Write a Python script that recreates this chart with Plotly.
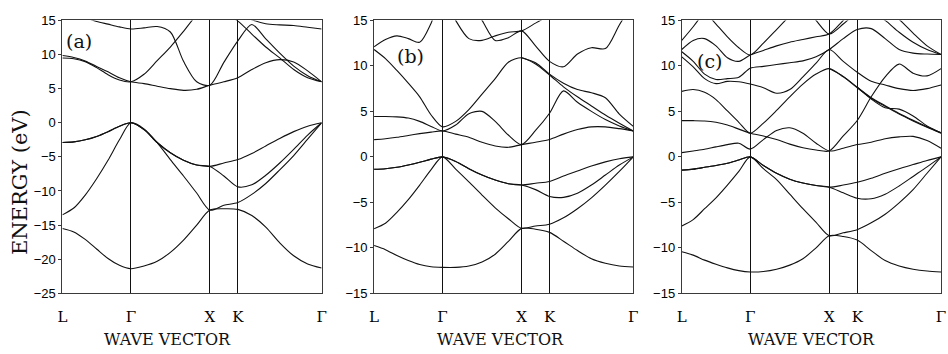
import plotly.graph_objects as go

# k-path positions (L, Gamma, X, K, Gamma) in units of 2pi/a
k_grid = [0, 0.1443, 0.2887, 0.433, 0.5773, 0.7217, 0.866, 1.0327, 1.1993, 1.366, 1.5327,
          1.6993, 1.866, 2.043, 2.22, 2.3967, 2.5733, 2.75, 2.9267, 3.1033, 3.28]
sym_k = [0, 0.866, 1.866, 2.22, 3.28]
sym_labels = ["L", "Γ", "X", "K", "Γ"]
N = None

# ---- panel (a) ----
a_v1 = [-15.5, -16.0, -17.1, -18.5, -19.9, -20.9, -21.4, -21.0, -20.3, -19.0, -17.2, -15.0, -12.8, -12.6, -12.7, -13.6, -15.3, -17.6, -19.5, -20.7, -21.3]
a_v2 = [-13.5, -12.5, -10.6, -8.2, -5.5, -2.5, 0, -0.9, -2.9, -5.4, -7.8, -10.3, -12.8, -12.1, -11.7, -10.5, -8.9, -6.9, -4.8, -2.4, 0]
a_v3 = [-2.9, -2.8, -2.5, -2.0, -1.3, -0.5, 0, -1.0, -2.9, -4.4, -5.5, -6.2, -6.4, -7.8, -9.4, -9.1, -7.7, -5.9, -3.9, -1.8, 0]
a_v4 = [-2.9, -2.8, -2.5, -2.0, -1.3, -0.5, 0, -1.0, -2.9, -4.4, -5.5, -6.2, -6.4, -5.9, -5.4, -4.5, -3.4, -2.3, -1.3, -0.5, 0]
a_c1 = [9.85, 9.57, 9.06, 8.26, 7.46, 6.58, 6.0, 5.74, 5.36, 5.0, 4.75, 4.9, 5.5, 6.0, 6.6, 7.8, 8.8, 9.25, 8.9, 7.6, 6.0]
a_c2 = [9.48, 9.39, 8.96, 8.08, 7.04, 6.26, 6.0, 7.1, 9.1, 11.1, 13.4, 15.8, 17.5, 16.2, 14.9, 13.0, 11.1, 9.5, 7.8, 6.6, 6.0]
a_c3 = [16.8, 16.0, 15.4, 14.85, 14.45, 14.05, 13.75, 13.9, 14.1, 13.3, 9.0, 6.0, 5.5, 8.85, 12.0, 14.4, 12.3, 10.2, 8.3, 6.9, 6.0]
a_c4 = [N, N, N, N, N, N, N, N, N, N, N, N, N, N, 16.0, 15.1, 14.5, 14.35, 14.25, 14.0, 13.75]

# ---- panel (b) ----
b_v1 = [-9.75, -10.2, -10.85, -11.4, -11.84, -12.08, -12.15, -12.15, -12.0, -11.55, -10.7, -9.3, -7.86, -7.95, -8.3, -9.27, -10.3, -11.2, -11.7, -12.0, -12.1]
b_v2 = [-7.9, -7.3, -6.1, -4.7, -3.1, -1.4, 0, -1.35, -2.75, -4.2, -5.6, -6.8, -7.86, -7.6, -7.4, -6.7, -5.7, -4.5, -3.1, -1.6, 0]
b_v3 = [-1.36, -1.3, -1.15, -0.9, -0.6, -0.25, 0, -0.5, -1.3, -2.0, -2.55, -2.95, -3.1, -3.6, -4.35, -4.45, -4.0, -3.1, -2.0, -0.9, 0]
b_v4 = [-1.36, -1.3, -1.15, -0.9, -0.6, -0.25, 0, -0.5, -1.3, -2.0, -2.55, -2.95, -3.1, -2.9, -2.7, -2.1, -1.55, -1.0, -0.55, -0.2, 0]
b_c1 = [1.9, 2.0, 2.15, 2.35, 2.55, 2.72, 2.85, 2.5, 2.15, 1.6, 1.2, 1.05, 1.35, 1.6, 1.9, 2.5, 3.0, 3.3, 3.3, 3.1, 2.85]
b_c2 = [4.44, 4.44, 4.4, 4.27, 3.9, 3.35, 2.85, 3.5, 4.75, 5.0, 3.9, 2.4, 1.35, 2.9, 4.8, 7.25, 6.0, 5.0, 4.1, 3.4, 2.85]
b_c3 = [11.8, 10.8, 9.5, 8.1, 6.6, 4.6, 3.3, 3.9, 5.2, 6.9, 8.6, 10.4, 10.9, 10.2, 9.0, 7.7, 6.6, 5.6, 4.6, 3.7, 2.85]
b_c4 = [12.1, 12.9, 13.3, 13.0, 12.6, 14.7, 18.0, 15.0, 13.0, 12.8, 13.3, 13.7, 13.85, 14.7, 15.6, 17.0, N, N, N, N, N]
b_c5 = [N, N, N, N, N, N, N, N, N, N, N, N, 10.9, 10.35, 9.1, 8.1, 7.4, 7.05, 6.5, 4.7, 3.35]
b_c6 = [N, N, N, N, N, N, N, N, 17.0, 15.0, 12.8, 13.1, 13.85, 12.2, 10.5, 9.9, 11.3, 12.0, 11.9, 14.5, 17.0]

# ---- panel (c) ----
c_v1 = [-10.43, -10.8, -11.35, -11.8, -12.2, -12.5, -12.65, -12.6, -12.35, -11.9, -11.2, -10.0, -8.67, -8.75, -9.15, -10.3, -11.4, -12.0, -12.35, -12.55, -12.65]
c_v2 = [-7.6, -6.9, -5.7, -4.5, -3.1, -1.6, 0, -1.3, -2.5, -4.1, -5.7, -7.2, -8.67, -8.35, -8.0, -7.25, -6.3, -5.05, -3.6, -1.8, 0]
c_v3 = [-1.46, -1.35, -1.15, -0.95, -0.7, -0.35, 0, -0.95, -1.8, -2.45, -2.87, -3.15, -3.33, -3.95, -4.55, -4.6, -4.1, -3.2, -2.15, -1.1, 0]
c_v4 = [-1.46, -1.35, -1.15, -0.95, -0.7, -0.35, 0, -0.95, -1.8, -2.45, -2.87, -3.15, -3.33, -3.1, -2.8, -2.35, -1.8, -1.3, -0.85, -0.4, 0]
c_c1 = [0.47, 0.65, 0.83, 1.1, 1.35, 1.5, 0.85, 1.9, 2.9, 3.2, 2.6, 1.5, 0.65, 0.95, 1.35, 1.6, 2.0, 2.2, 2.25, 1.8, 0.95]
c_c2 = [3.98, 3.98, 3.95, 3.8, 3.5, 3.05, 2.6, 2.3, 1.9, 1.4, 1.0, 0.75, 0.65, 2.3, 4.0, 6.6, 8.8, 10.2, 9.2, 8.9, 9.7]
c_c3 = [7.2, 7.4, 7.1, 6.3, 5.05, 3.8, 2.6, 3.7, 5.1, 6.6, 8.0, 9.1, 9.7, 8.8, 7.6, 6.45, 5.55, 4.7, 3.95, 3.25, 2.6]
c_c4 = [N, N, N, N, N, N, N, N, N, N, N, N, 9.7, 8.85, 7.65, 6.35, 5.4, 5.25, 4.5, 3.4, 2.65]
c_c5 = [N, N, N, N, N, N, N, N, N, N, N, N, N, N, 7.65, 6.5, 5.62, 4.78, 4.03, 3.32, 2.66]
c_u1 = [11.8, 12.8, 13.0, 12.2, 10.9, 10.5, 11.2, 11.7, 12.2, 12.6, 12.9, 13.2, 13.5, 15.0, 16.5, N, N, N, N, N, N]
c_u2 = [N, N, 16.0, 14.6, 13.2, 12.0, 11.2, 12.5, 14.0, 15.5, 17.0, N, N, N, N, N, N, N, N, N, N]
c_u3 = [11.55, 10.5, 9.1, 8.5, 8.6, 8.75, 9.75, 9.95, 10.15, 10.35, 10.55, 11.0, 11.8, 13.0, 14.0, 14.1, 13.0, 11.8, 11.4, 11.3, 11.25]
c_u4 = [11.0, 9.9, 8.6, 8.05, 8.3, 8.25, 8.0, 7.6, 7.0, 7.4, 8.8, 10.3, 11.8, 10.5, 9.3, 8.3, 7.9, 7.5, 7.3, 7.5, 7.9]
c_u5 = [12.8, 14.3, 16.0, N, N, N, N, N, N, N, N, N, N, N, N, N, N, N, N, N, N]
c_u6 = [N, N, N, N, N, N, N, N, N, N, N, N, N, N, 17.5, 16.0, 15.0, 13.7, 12.6, 11.8, 11.25]
c_u7 = [N, N, N, N, N, N, N, N, N, N, N, N, N, N, N, 17.5, 16.2, 15.1, 13.6, 12.2, 11.25]
c_u8 = [N, N, N, N, N, N, N, N, N, N, 16.6, 15.0, 13.5, 14.6, 16.0, N, N, N, N, N, N]

panels = [
    ("x", "y", [a_v1, a_v2, a_v3, a_v4, a_c1, a_c2, a_c3, a_c4]),
    ("x2", "y2", [b_v1, b_v2, b_v3, b_v4, b_c1, b_c2, b_c3, b_c4, b_c5, b_c6]),
    ("x3", "y3", [c_v1, c_v2, c_v3, c_v4, c_c1, c_c2, c_c3, c_c4, c_c5,
                  c_u1, c_u2, c_u3, c_u4, c_u5, c_u6, c_u7, c_u8]),
]

fig = go.Figure()
for xa, ya, bands in panels:
    for e in bands:
        fig.add_trace(go.Scatter(x=k_grid, y=e, xaxis=xa, yaxis=ya, mode="lines",
                                 line=dict(color="#111111", width=1.1, shape="spline", smoothing=0.8),
                                 hoverinfo="skip", showlegend=False))

W, H = 948, 354
x_domains = [(58, 320), (373, 635), (684, 946)]
y_top, y_bot = 14, 299
y_ranges = [(-25, 15), (-15, 15), (-15, 15)]
frame = "#3a3a3a"

layout = dict(width=W, height=H, margin=dict(l=0, r=0, t=0, b=0),
              paper_bgcolor="white", plot_bgcolor="white", showlegend=False)
for i, ((x0, x1), (ylo, yhi)) in enumerate(zip(x_domains, y_ranges)):
    sx = "" if i == 0 else str(i + 1)
    layout["xaxis" + sx] = dict(
        domain=[x0 / W, x1 / W], anchor="y" + sx, range=[0, 3.28],
        tickvals=sym_k, ticktext=sym_labels, ticks="", ticklabelstandoff=10,
        showgrid=True, gridcolor="#111111", gridwidth=1, zeroline=False,
        showline=True, mirror=True, linecolor=frame, linewidth=1,
        tickfont=dict(family="DejaVu Serif", size=15, color="#000000"))
    layout["yaxis" + sx] = dict(
        domain=[1 - y_bot / H, 1 - y_top / H], anchor="x" + sx, range=[ylo, yhi],
        dtick=5, tick0=0, showgrid=False, zeroline=False,
        showline=True, mirror=True, linecolor=frame, linewidth=1,
        ticks="outside", ticklen=3, tickcolor=frame,
        tickfont=dict(family="Liberation Sans", size=13, color="#000000"))

ann = []
for txt, cx, cy in [("(a)", 75, 35), ("(b)", 410, 51), ("(c)", 712, 56)]:
    ann.append(dict(text=txt, x=cx / W, y=1 - cy / H, xref="paper", yref="paper",
                    showarrow=False, xanchor="center", yanchor="middle",
                    font=dict(family="DejaVu Serif", size=19, color="#111111")))
for cx in [164, 501, 815]:
    ann.append(dict(text="WAVE VECTOR", x=cx / W, y=1 - 347 / H, xref="paper", yref="paper",
                    showarrow=False, xanchor="center", yanchor="middle",
                    font=dict(family="DejaVu Serif", size=16, color="#111111")))
ann.append(dict(text="ENERGY (eV)", x=15 / W, y=1 - 183 / H, xref="paper", yref="paper",
                showarrow=False, xanchor="center", yanchor="middle", textangle=-90,
                font=dict(family="DejaVu Serif", size=21, color="#111111")))
layout["annotations"] = ann

fig.update_layout(**layout)
fig.write_html("out.html")
